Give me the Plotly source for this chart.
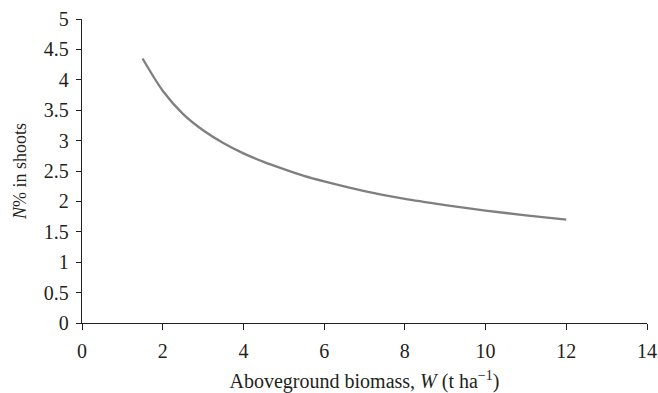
import plotly.graph_objects as go

W = [1.5, 2, 2.5, 3, 3.5, 4, 4.5, 5, 5.5, 6, 7, 8, 9, 10, 11, 12]
N_pct = [4.35, 3.82, 3.44, 3.17, 2.96, 2.79, 2.65, 2.53, 2.42, 2.33, 2.17, 2.04, 1.94, 1.85, 1.77, 1.70]

x_ticks = [0, 2, 4, 6, 8, 10, 12, 14]
y_ticks = [0, 0.5, 1, 1.5, 2, 2.5, 3, 3.5, 4, 4.5, 5]
y_labels = ["0", "0.5", "1", "1.5", "2", "2.5", "3", "3.5", "4", "4.5", "5"]

font = "Liberation Serif"

fig = go.Figure()
fig.add_trace(go.Scatter(x=W, y=N_pct, mode="lines",
                         line=dict(color="#7f7f7f", width=2.3, shape="spline", smoothing=0.8),
                         hoverinfo="skip"))

fig.update_layout(
    width=658, height=393,
    margin=dict(l=82, r=11, t=19, b=70),
    paper_bgcolor="white", plot_bgcolor="white",
    showlegend=False,
    font=dict(family=font, size=20, color="#231f20"),
)
fig.update_xaxes(
    range=[0, 14], tickvals=x_ticks, ticktext=[str(v) for v in x_ticks],
    showgrid=False, zeroline=False, showline=True, linecolor="#231f20", linewidth=1.3,
    ticks="outside", ticklen=6, tickcolor="#231f20", tickwidth=1.3,
    ticklabelstandoff=4, automargin=False,
    title=dict(text="Aboveground biomass, <i>W</i> (t ha<sup>−1</sup>)", standoff=22,
               font=dict(size=20)),
)
fig.update_yaxes(
    range=[0, 5], tickvals=y_ticks, ticktext=y_labels,
    showgrid=False, zeroline=False, showline=True, linecolor="#231f20", linewidth=1.3,
    ticks="outside", ticklen=5, tickcolor="#231f20", tickwidth=1.3,
    ticklabelstandoff=3, automargin=False,
    title=dict(text="<i>N</i>% in shoots", standoff=12, font=dict(size=18)),
)

fig.write_html("out.html")
